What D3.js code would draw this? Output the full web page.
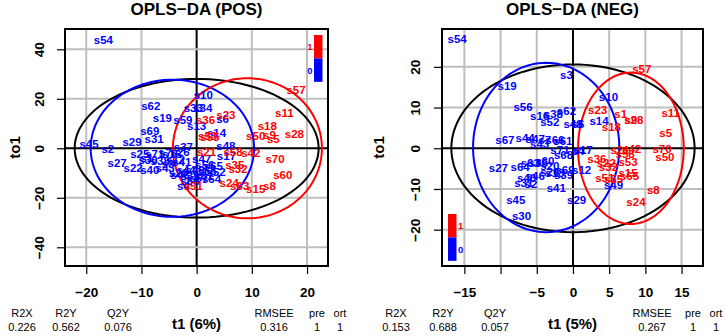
<!DOCTYPE html>
<html>
<head>
<meta charset="utf-8">
<script src="https://cdn.jsdelivr.net/npm/d3@7"></script>
<style>
  body { margin: 0; background: #fff; }
  svg { display: block; font-family: "Liberation Sans", Arial, sans-serif; }
</style>
</head>
<body>
<div id="chart"></div>
<script>
/**
 * DATA
 * */
// POS panel : sample names, t1 score, to1 score, class (0 = blue, 1 = red)
const posNames = ["s54","s10","s62","s33","s34","s19","s59","s13","s6","s69","s31","s14","s45","s2","s29","s48","s37","s27","s22","s40","s47","s17","s64","s20","s4",
  "s25","s71","s7","s16","s26","s30","s38","s12","s41","s43","s44","s46","s39","s56","s65","s66","s67","s68","s1","s3","s49","s52","s61",
  "s36","s23","s53","s55","s57","s11","s18","s28","s50","s9","s5","s21","s58","s42","s70","s35","s32","s60","s24","s63","s15","s8","s51"];
const posT1 = [-16.9,1.2,-8.3,-0.6,1.1,-6.2,-2.5,0,4.7,-8.5,-7.7,3.6,-19.5,-16.1,-11.7,5.3,-2.4,-14.4,-11.5,-8.5,0.9,5.4,2.7,-3.3,-2.4,
  -10.3,-7.6,-5.7,-4.5,-3.0,-8.8,-6.6,-3.8,-2.7,-5.7,-1.9,-3.0,-1.2,1.5,3.0,1.9,0.4,-1.2,-9.0,-5.2,-0.3,3.5,1.3,
  1.6,5.3,2.0,2.4,18.0,15.9,12.8,17.7,10.7,13.2,13.9,1.8,6.6,9.8,14.2,6.9,7.5,15.6,5.9,7.8,10.7,13.2,-0.6];
const posTo1 = [44.0,21.5,17.1,16.4,16.4,12.4,11.4,9.1,11.7,7.0,4.0,6.3,1.6,-0.3,2.4,0.9,0.4,-5.7,-7.8,-8.8,-4.4,-3.1,-12.5,-10.1,-15.2,
  -2.3,-2.3,-1.9,-2.3,-1.5,-4.7,-5.1,-4.7,-5.5,-8.0,-8.8,-10.8,-11.2,-6.7,-7.2,-9.2,-12.0,-13.2,-3.9,-6.3,-8.8,-9.6,-11.2,
  11.4,13.5,5.0,4.6,23.6,14.4,9.1,5.8,5.1,5.6,3.8,-1.4,-1.4,-2.0,-4.3,-6.7,-8.4,-10.8,-13.8,-15.2,-16.3,-15.2,-15.2];
const posClass = [0,0,0,0,0,0,0,0,0,0,0,0,0,0,0,0,0,0,0,0,0,0,0,0,0,
  0,0,0,0,0,0,0,0,0,0,0,0,0,0,0,0,0,0,0,0,0,0,0,
  1,1,1,1,1,1,1,1,1,1,1,1,1,1,1,1,1,1,1,1,1,1,1];

// NEG panel
const negNames = ["s54","s3","s19","s56","s16","s38","s62","s52","s48","s6","s14","s10","s67","s44","s47","s7","s66","s61","s43","s68","s17","s4","s71",
  "s27","s64","s63","s35","s60","s20","s26","s39","s40","s46","s2","s31","s12","s41","s45","s30","s29","s49","s69","s13",
  "s57","s11","s23","s1","s9","s28","s18","s5","s42","s58","s21","s70","s50","s36","s32","s22","s53","s15","s65","s55","s51","s8","s24"];
const negT1 = [-16.0,-0.9,-9.1,-6.9,-4.6,-2.7,-0.9,-3.2,0.0,0.7,3.6,4.9,-9.4,-6.6,-5.2,-3.9,-2.5,-1.4,-4.6,-1.3,1.4,0.7,-1.8,
  -10.3,-7.3,-5.9,-4.8,-3.9,-3.2,-3.2,-1.3,-6.4,-5.2,-5.8,-6.8,1.2,-2.3,-7.9,-7.1,0.5,5.6,-1.1,-2.5,
  9.5,13.5,3.4,6.6,8.0,8.4,5.3,12.8,8.1,7.2,6.5,12.3,12.7,3.3,4.9,4.6,7.6,7.6,7.8,5.6,4.4,11.1,8.7];
const negTo1 = [26.8,18.0,15.3,10.1,8.0,8.4,9.2,6.4,5.9,6.1,6.7,12.7,2.0,2.5,2.3,2.0,2.0,1.8,1.1,-1.6,-0.4,-0.7,-0.4,
  -4.9,-4.5,-3.6,-3.6,-3.1,-4.3,-5.7,-6.6,-7.3,-6.8,-8.8,-8.5,-5.3,-9.8,-12.7,-16.6,-12.7,-9.0,-5.3,-6.1,
  19.5,8.8,9.4,8.4,7.0,7.0,5.2,3.8,-0.2,-1.4,-0.4,-0.2,-2.1,-2.5,-4.5,-3.6,-3.4,-6.1,-6.7,-7.6,-7.3,-10.1,-13.1];
const negClass = [0,0,0,0,0,0,0,0,0,0,0,0,0,0,0,0,0,0,0,0,0,0,0,
  0,0,0,0,0,0,0,0,0,0,0,0,0,0,0,0,0,0,0,0,
  1,1,1,1,1,1,1,1,1,1,1,1,1,1,1,1,1,1,1,1,1,1,1];

// ellipses: [centre t1, centre to1, half width, half height] for all / class 0 / class 1
const posEllipses = [[0, 0, 22.1, 28.0], [-4.4, 0, 14.8, 27.7], [9.2, 0, 13.5, 28.3]];
const negEllipses = [[0, 0, 16.8, 20.6], [-3.7, 0.2, 10.1, 20.8], [8.0, 0, 7.3, 18.6]];

// axis ticks
const posXTicks = [-20, -10, 0, 10, 20];
const posYTicks = [-40, -20, 0, 20, 40];
const negXTicks = [-15, -10, -5, 0, 5, 10, 15];
const negXLabels = ["−15", "", "−5", "0", "5", "10", "15"];
const negYTicks = [-20, -10, 0, 10, 20];

// model summary
const statNames = ["R2X", "R2Y", "Q2Y", "RMSEE", "pre", "ort"];
const posStats = ["0.226", "0.562", "0.076", "0.316", "1", "1"];
const negStats = ["0.153", "0.688", "0.057", "0.267", "1", "1"];

/**
 * CONSTANTS
 * */
const width = 726, height = 336;
const ellipseColors = ["black", "#0000FF", "#FF0000"];
const classColors = ["#0000FF", "#FF0000"];
const minus = v => (v < 0 ? "−" + Math.abs(v) : String(v));

const svg = d3.select("#chart").append("svg")
  .attr("width", width)
  .attr("height", height);

const panels = [
  {
    title: "OPLS−DA (POS)", xlab: "t1 (6%)",
    box: [65, 328, 29, 266],
    xDomain: [-23.85, 23.8], yDomain: [-47.56, 48.2],
    xTicks: posXTicks, xLabels: posXTicks.map(minus), yTicks: posYTicks,
    yLabGap: 21.5, ylabGap: 45,
    names: posNames, t1: posT1, to1: posTo1, cls: posClass,
    ellipses: posEllipses, stats: posStats,
    statX: [22, 66, 118, 274, 317, 340],
    legend: { x: 314, y: 35, side: "left" }
  },
  {
    title: "OPLS−DA (NEG)", xlab: "t1 (5%)",
    box: [442, 703, 29, 266],
    xDomain: [-18.09, 17.96], yDomain: [-28.92, 29.3],
    xTicks: negXTicks, xLabels: negXLabels, yTicks: negYTicks,
    yLabGap: 22, ylabGap: 58,
    names: negNames, t1: negT1, to1: negTo1, cls: negClass,
    ellipses: negEllipses, stats: negStats,
    statX: [396, 443, 495, 652, 693, 716],
    legend: { x: 448, y: 214, side: "right" }
  }
];

panels.forEach(drawPanel);

function drawPanel(p) {
  const [x0, x1, y0, y1] = p.box;
  const x = d3.scaleLinear().domain(p.xDomain).range([x0, x1]);
  const y = d3.scaleLinear().domain(p.yDomain).range([y1, y0]);
  const g = svg.append("g");

  // grid
  g.selectAll(".vgrid").data(p.xTicks).join("line")
    .attr("x1", d => x(d)).attr("x2", d => x(d))
    .attr("y1", y0).attr("y2", y1)
    .attr("stroke", d => d === 0 ? "black" : "#bebebe")
    .attr("stroke-width", 2);
  g.selectAll(".hgrid").data(p.yTicks).join("line")
    .attr("y1", d => y(d)).attr("y2", d => y(d))
    .attr("x1", x0).attr("x2", x1)
    .attr("stroke", d => d === 0 ? "black" : "#bebebe")
    .attr("stroke-width", 2);

  // ellipses
  const angles = d3.range(0, 361, 3).map(a => a * Math.PI / 180);
  const line = d3.line().x(d => d[0]).y(d => d[1]);
  p.ellipses.forEach((e, i) => {
    g.append("path")
      .attr("d", line(angles.map(a => [x(e[0] + e[2] * Math.cos(a)), y(e[1] + e[3] * Math.sin(a))])))
      .attr("fill", "none")
      .attr("stroke", ellipseColors[i])
      .attr("stroke-width", 2);
  });

  // sample labels
  g.selectAll(".lab").data(p.names).join("text")
    .attr("x", (d, i) => x(p.t1[i]))
    .attr("y", (d, i) => y(p.to1[i]))
    .attr("dy", "0.36em")
    .attr("text-anchor", "middle")
    .attr("font-size", 11.5)
    .attr("font-weight", "bold")
    .attr("fill", (d, i) => classColors[p.cls[i]])
    .text(d => d);

  // legend colour bar
  const lg = p.legend;
  g.append("rect").attr("x", lg.x).attr("y", lg.y).attr("width", 8.5).attr("height", 23.4).attr("fill", "#FF0000");
  g.append("rect").attr("x", lg.x).attr("y", lg.y + 23.4).attr("width", 8.5).attr("height", 23.4).attr("fill", "#0000FF");
  ["1", "0"].forEach((t, i) => {
    g.append("text")
      .attr("x", lg.side === "left" ? lg.x - 1.5 : lg.x + 10)
      .attr("y", lg.y + 11.7 + i * 23.4)
      .attr("dy", "0.36em")
      .attr("text-anchor", lg.side === "left" ? "end" : "start")
      .attr("font-size", 9.5)
      .attr("font-weight", "bold")
      .attr("fill", classColors[1 - i])
      .text(t);
  });

  // box
  g.append("rect")
    .attr("x", x0).attr("y", y0)
    .attr("width", x1 - x0).attr("height", y1 - y0)
    .attr("fill", "none").attr("stroke", "black").attr("stroke-width", 2);

  // axes
  const xAxis = g.append("g")
    .attr("transform", `translate(0,${y1})`)
    .call(d3.axisBottom(x).tickValues(p.xTicks).tickSize(8).tickPadding(13.5)
      .tickFormat((d, i) => p.xLabels[i]));
  xAxis.select(".domain").remove();
  xAxis.selectAll("line").attr("stroke", "black").attr("stroke-width", 1.2);
  xAxis.selectAll("text").attr("font-size", 13.5).attr("font-weight", "bold")
    .attr("font-family", "Liberation Sans, Arial, sans-serif").attr("fill", "black");

  const yAxis = g.append("g")
    .attr("transform", `translate(${x0},0)`)
    .call(d3.axisLeft(y).tickValues(p.yTicks).tickSize(8).tickFormat(minus));
  yAxis.select(".domain").remove();
  yAxis.selectAll("line").attr("stroke", "black").attr("stroke-width", 1.2);
  yAxis.selectAll("text")
    .attr("transform", "rotate(-90)")
    .attr("x", 0).attr("y", -p.yLabGap).attr("dy", 0)
    .attr("text-anchor", "middle")
    .attr("font-size", 13.5).attr("font-weight", "bold")
    .attr("font-family", "Liberation Sans, Arial, sans-serif").attr("fill", "black");

  // titles
  const cx = (x0 + x1) / 2;
  g.append("text").attr("x", cx).attr("y", 15)
    .attr("text-anchor", "middle").attr("font-size", 17).attr("font-weight", "bold")
    .text(p.title);
  g.append("text").attr("x", cx).attr("y", 329)
    .attr("text-anchor", "middle").attr("font-size", 15).attr("font-weight", "bold")
    .text(p.xlab);
  g.append("text")
    .attr("transform", `translate(${x0 - p.ylabGap},${(y0 + y1) / 2}) rotate(-90)`)
    .attr("text-anchor", "middle").attr("font-size", 15).attr("font-weight", "bold")
    .text("to1");

  // model summary
  statNames.forEach((s, i) => {
    g.append("text").attr("x", p.statX[i]).attr("y", 317)
      .attr("text-anchor", "middle").attr("font-size", 11).text(s);
    g.append("text").attr("x", p.statX[i]).attr("y", 331)
      .attr("text-anchor", "middle").attr("font-size", 11).text(p.stats[i]);
  });
}
</script>
</body>
</html>
